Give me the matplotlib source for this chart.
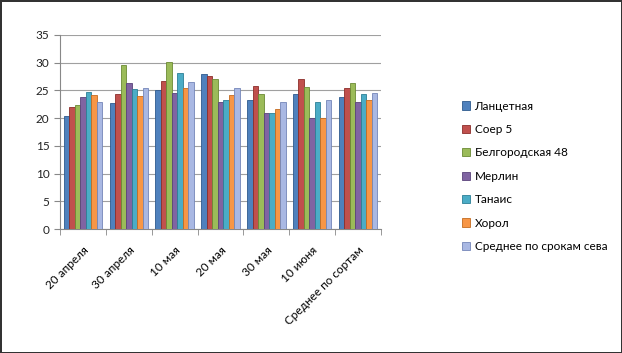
import matplotlib.pyplot as plt
import numpy as np

plt.rcParams['font.family'] = ['Lato', 'DejaVu Sans']

# sowing dates (categories)
dates = ['20 апреля', '30 апреля', '10 мая', '20 мая', '30 мая', '10 июня', 'Среднее по сортам']

# yields by variety
lancetnaya = [20.4, 22.8, 25.1, 27.9, 23.3, 24.3, 23.9]
soer5 = [22.0, 24.3, 26.7, 27.6, 25.8, 27.0, 25.5]
belgorodskaya48 = [22.4, 29.6, 30.1, 27.0, 24.3, 25.7, 26.4]
merlin = [23.9, 26.3, 24.5, 23.0, 21.0, 20.1, 23.0]
tanais = [24.8, 25.2, 28.2, 23.3, 20.9, 23.0, 24.3]
horol = [24.2, 24.0, 25.4, 24.2, 21.7, 20.1, 23.3]
srednee = [22.9, 25.4, 26.6, 25.5, 22.9, 23.3, 24.5]

series = [
    ('Ланцетная', lancetnaya, '#4F81BD', '#2E5A8E'),
    ('Соер 5', soer5, '#C0504D', '#8C2E2B'),
    ('Белгородская 48', belgorodskaya48, '#9BBB59', '#6B8A34'),
    ('Мерлин', merlin, '#8064A2', '#5A437A'),
    ('Танаис', tanais, '#4BACC6', '#2C7F96'),
    ('Хорол', horol, '#F79646', '#C46B1F'),
    ('Среднее по срокам сева', srednee, '#A9B8E3', '#7486B8'),
]

fig = plt.figure(figsize=(6.22, 3.53), dpi=100)
fig.patch.set_edgecolor('#333333')
fig.patch.set_linewidth(2)
ax = fig.add_axes([0.0965, 0.351, 0.516, 0.55])

x = np.arange(len(dates))
w = 0.12
for i, (name, vals, color, edge) in enumerate(series):
    ax.bar(x + (i - 3) * w, vals, width=w, color=color, edgecolor=edge,
           linewidth=0.6, label=name, zorder=3)

ax.set_xlim(-0.5, len(dates) - 0.5)
ax.set_ylim(0, 35)
ax.set_yticks(range(0, 36, 5))
ax.grid(axis='y', color='#A0A0A0', linewidth=0.8, zorder=0)
ax.set_xticks(np.arange(-0.5, len(dates), 1), minor=True)
ax.set_xticks(x)
ax.set_xticklabels(dates, rotation=45, ha='right', rotation_mode='anchor', fontsize=8.5)
ax.tick_params(axis='x', which='major', length=0, pad=11)
ax.tick_params(axis='x', which='minor', length=4, color='#888888')
ax.tick_params(axis='y', labelsize=8.5, length=4, color='#888888', labelcolor='#222222')
for s in ['top', 'right']:
    ax.spines[s].set_visible(False)
ax.spines['left'].set_color('#888888')
ax.spines['bottom'].set_color('#888888')

fig.legend(loc='upper left', bbox_to_anchor=(0.725, 0.745), frameon=False,
           fontsize=8.5, handlelength=0.7, handleheight=0.7, handletextpad=0.4,
           labelspacing=1.05)

fig.savefig('out.png', dpi=100)
